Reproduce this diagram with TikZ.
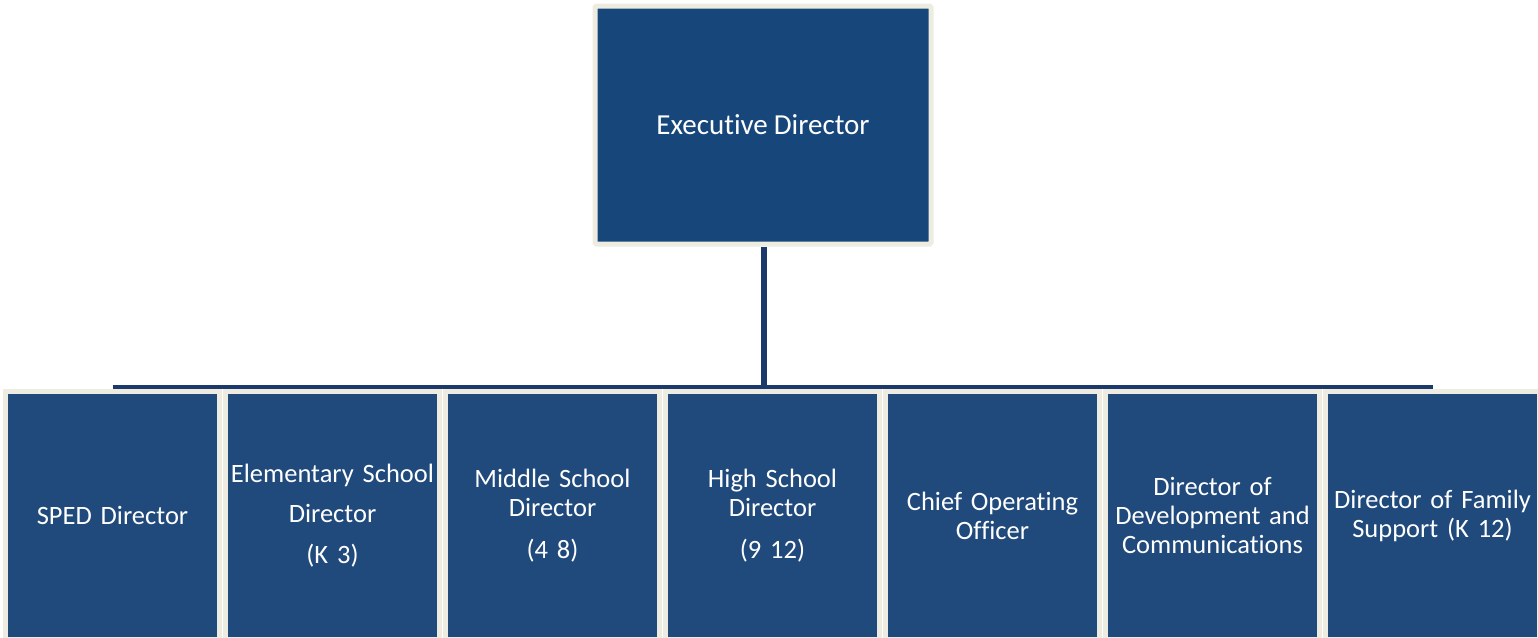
\documentclass[tikz,border=0pt]{standalone}
\usepackage{fontspec}
\setmainfont{Carlito}[Ligatures={NoCommon}, WordSpace=0.9]
\definecolor{topblue}{HTML}{17477A}
\definecolor{boxblue}{HTML}{20497C}
\definecolor{cream}{HTML}{EEECE1}
\definecolor{linenavy}{HTML}{1B3A6B}
\begin{document}
\begin{tikzpicture}[x=1pt,y=-1pt,
  topbox/.style={rectangle, fill=topblue, draw=cream, line width=5pt, rounded corners=1.5pt,
    minimum width=336pt, minimum height=238pt, inner sep=0pt, text=white, align=center,
    font=\fontsize{29}{34}\selectfont},
  subbox/.style={rectangle, fill=boxblue, draw=cream, line width=5pt,
    minimum width=214pt, minimum height=248pt, inner sep=0pt, text=white, align=center,
    text width=212pt, font=\fontsize{26.5}{29}\selectfont},
  conn/.style={draw=linenavy}]
\useasboundingbox (0,0) rectangle (1538,637);
\node[topbox] (top) at (763,125) {Executive Director};
\node[subbox] (b1) at (112.5,515.5) {SPED Director};
\node[subbox] (b2) at (332.5,515.5) {Elementary School\\[11pt]Director\\[12pt](K 3)};
\node[subbox] (b3) at (552.5,515.5) {Middle School\\Director\\[13pt](4 8)};
\node[subbox] (b4) at (772.5,515.5) {High School\\Director\\[13pt](9 12)};
\node[subbox] (b5) at (992.5,515.5) {Chief Operating\\Officer};
\node[subbox] (b6) at (1212.5,515.5) {Director of\\Development and\\Communications};
\node[subbox] (b7) at (1432.5,515.5) {Director of Family\\Support (K 12)};
\coordinate (bus) at (764,387);
\draw[conn, line width=6pt] (top.south -| bus) -- (bus);
\draw[conn, line width=3.5pt] (b1.north |- bus) -- (b7.north |- bus);
\end{tikzpicture}
\end{document}
